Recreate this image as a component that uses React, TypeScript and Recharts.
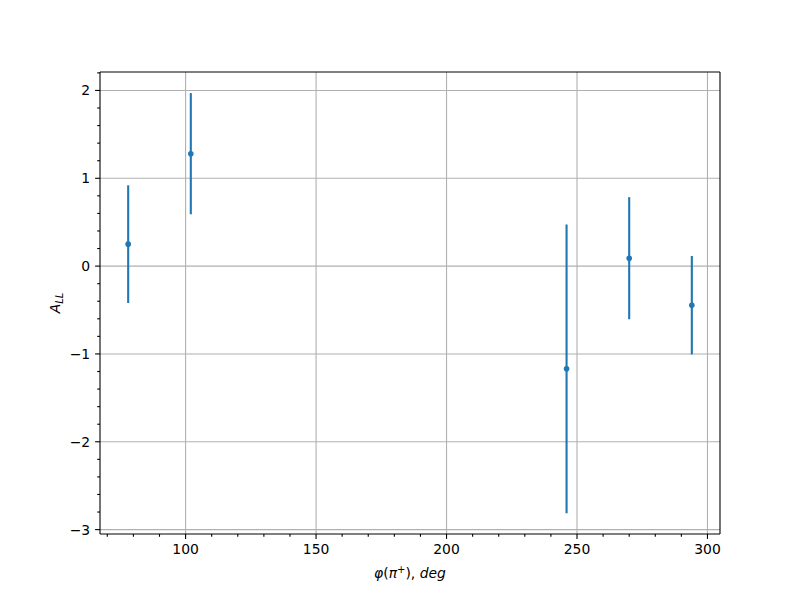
import React from "react";
import {
  ScatterChart,
  Scatter,
  XAxis,
  YAxis,
  ErrorBar,
  ReferenceLine,
} from "recharts";

// measured points: phi(pi+) in deg, A_LL value, symmetric error
const phi = [78, 102, 246, 270, 294];
const all = [0.25, 1.28, -1.17, 0.09, -0.445];
const allErr = [0.67, 0.69, 1.645, 0.695, 0.56];

const xMajor = [100, 150, 200, 250, 300];
const xMinor = [70, 80, 90, 100, 110, 120, 130, 140, 150, 160, 170, 180, 190, 200, 210, 220, 230, 240, 250, 260, 270, 280, 290, 300];
const yMajor = [-3, -2, -1, 0, 1, 2];
const yMinor = [-3, -2.8, -2.6, -2.4, -2.2, -2, -1.8, -1.6, -1.4, -1.2, -1, -0.8, -0.6, -0.4, -0.2, 0, 0.2, 0.4, 0.6, 0.8, 1, 1.2, 1.4, 1.6, 1.8, 2, 2.2];

const data = phi.map((x, i) => ({ x, y: all[i], err: allErr[i] }));

const BLUE = "#1f77b4";
const FONT = "DejaVu Sans, sans-serif";
const FS = 13.9;

const isMajor = (v: number, majors: number[]) =>
  majors.some((m) => Math.abs(m - v) < 1e-6);

const fmt = (v: number) => (v < 0 ? "\u2212" + Math.abs(v) : String(v));

const XTick = (props: any) => {
  const { x, y, payload } = props;
  const major = isMajor(payload.value, xMajor);
  return (
    <g>
      <line x1={x} x2={x} y1={y} y2={y + (major ? 4.9 : 2.8)} stroke="#000" strokeWidth={1.1} />
      {major && (
        <text x={x} y={y + 9.8} dy="0.76em" textAnchor="middle" fontSize={FS} fontFamily={FONT} fill="#000">
          {fmt(payload.value)}
        </text>
      )}
    </g>
  );
};

const YTick = (props: any) => {
  const { x, y, payload } = props;
  const major = isMajor(payload.value, yMajor);
  return (
    <g>
      <line x1={x} x2={x - (major ? 4.9 : 2.8)} y1={y} y2={y} stroke="#000" strokeWidth={1.1} />
      {major && (
        <text x={x - 9.8} y={y} dy="0.36em" textAnchor="end" fontSize={FS} fontFamily={FONT} fill="#000">
          {fmt(Math.round(payload.value))}
        </text>
      )}
    </g>
  );
};

const Dot = (props: any) => <circle cx={props.cx} cy={props.cy} r={2.8} fill={BLUE} />;

const X_DOMAIN: [number, number] = [67.2, 304.8];
const Y_DOMAIN: [number, number] = [-3.05, 2.21];

export default function App() {
  return (
    <div style={{ position: "absolute", left: 0, top: 0, width: 800, height: 600, background: "#fff" }}>
      <ScatterChart
        width={800}
        height={600}
        margin={{ top: 72, right: 80, bottom: 26, left: 60 }}
      >
        <XAxis
          type="number"
          dataKey="x"
          domain={X_DOMAIN}
          allowDataOverflow
          ticks={xMinor}
          interval={0}
          tick={<XTick />}
          tickLine={false}
          tickSize={0}
          tickMargin={0}
          height={40}
          axisLine={{ stroke: "#000", strokeWidth: 1.1 }}
        />
        <YAxis
          type="number"
          dataKey="y"
          domain={Y_DOMAIN}
          allowDataOverflow
          ticks={yMinor}
          interval={0}
          tick={<YTick />}
          tickLine={false}
          tickSize={0}
          tickMargin={0}
          width={40}
          axisLine={{ stroke: "#000", strokeWidth: 1.1 }}
        />
        {xMajor.map((v) => (
          <ReferenceLine key={"gx" + v} x={v} stroke="#b0b0b0" strokeWidth={1.1} />
        ))}
        {yMajor.map((v) => (
          <ReferenceLine key={"gy" + v} y={v} stroke="#b0b0b0" strokeWidth={1.1} />
        ))}
        <ReferenceLine x={X_DOMAIN[1]} stroke="#000" strokeWidth={1.1} ifOverflow="visible" />
        <ReferenceLine y={Y_DOMAIN[1]} stroke="#000" strokeWidth={1.1} ifOverflow="visible" />
        <Scatter
          data={data}
          shape={<Dot />}
          isAnimationActive={false}
        >
          <ErrorBar dataKey="err" direction="y" width={0} stroke={BLUE} strokeWidth={2.1} isAnimationActive={false} />
        </Scatter>
      </ScatterChart>
      <svg width={800} height={600} style={{ position: "absolute", left: 0, top: 0, pointerEvents: "none" }}>
        <text x={410} y={578} textAnchor="middle" fontSize={FS} fontFamily={FONT} fill="#000">
          <tspan fontStyle="italic">φ</tspan>
          <tspan>(</tspan>
          <tspan fontStyle="italic">π</tspan>
          <tspan fontSize={10} dy={-5}>+</tspan>
          <tspan dy={5}>), </tspan>
          <tspan fontStyle="italic">deg</tspan>
        </text>
        <text transform="translate(60,303) rotate(-90)" textAnchor="middle" fontSize={FS} fontFamily={FONT} fill="#000">
          <tspan fontStyle="italic">A</tspan>
          <tspan fontStyle="italic" fontSize={10} dy={3}>LL</tspan>
        </text>
      </svg>
    </div>
  );
}
